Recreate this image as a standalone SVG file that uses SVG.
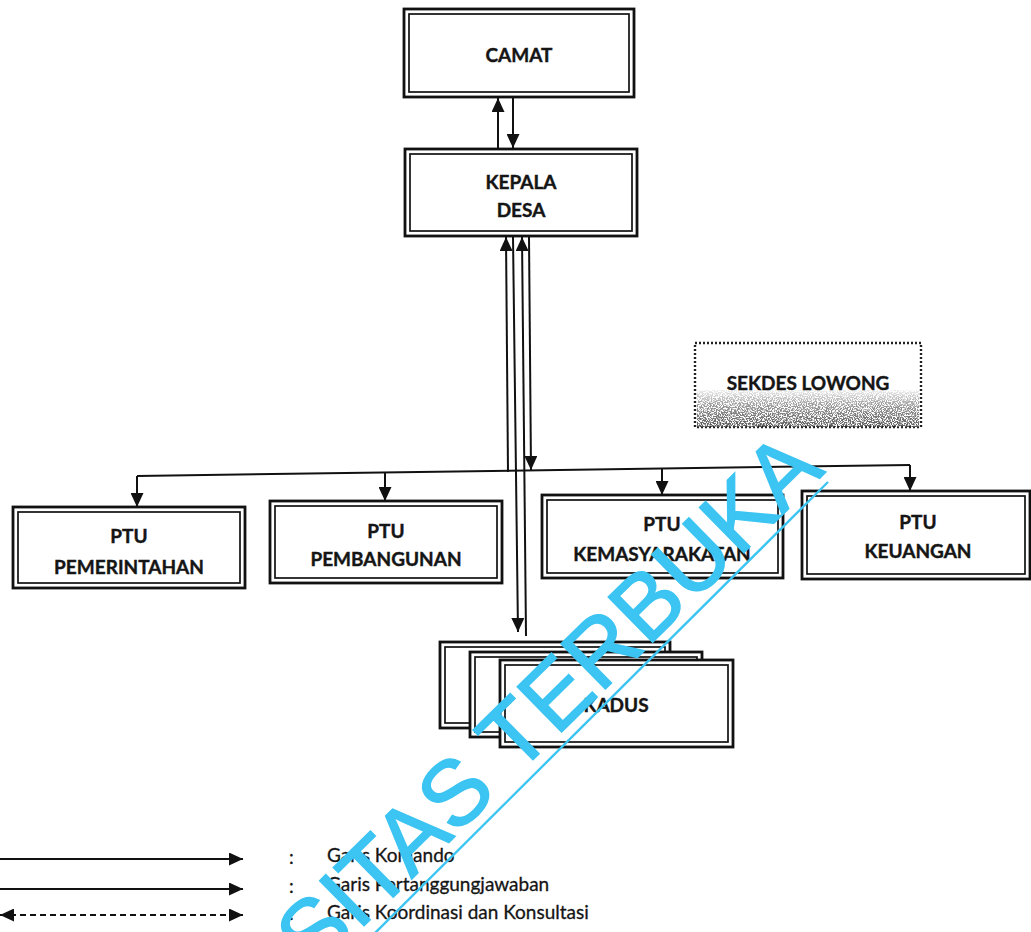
<svg xmlns="http://www.w3.org/2000/svg" width="1031" height="932" viewBox="0 0 1031 932">
  <style>
    .outer { fill: #ffffff; stroke: #111111; stroke-width: 2.8; }
    .inner { fill: none; stroke: #111111; stroke-width: 1.7; }
    .lbl { font-family: Lato, "Open Sans", "Liberation Sans", sans-serif; font-weight: 700; font-size: 19px; fill: #151515; stroke: #151515; stroke-width: 0.4; text-anchor: middle; }
    .leg { font-family: Lato, "Open Sans", "Liberation Sans", sans-serif; font-size: 19px; fill: #151515; stroke: #151515; stroke-width: 0.3; }
    .conn { fill: none; stroke: #111111; stroke-width: 2; }
    .wm { font-family: "Liberation Sans", Arial, sans-serif; font-size: 92px; fill: #3cc4f2; stroke: #3cc4f2; stroke-width: 1.5; }
  </style>
  <defs>
    <marker id="arrow" markerUnits="userSpaceOnUse" markerWidth="15" markerHeight="13" refX="14" refY="6.5" orient="auto">
      <path d="M0,0 L14,6.5 L0,13 Z" fill="#111111"/>
    </marker>
    <marker id="arrowStart" markerUnits="userSpaceOnUse" markerWidth="15" markerHeight="13" refX="1" refY="6.5" orient="auto">
      <path d="M15,0 L1,6.5 L15,13 Z" fill="#111111"/>
    </marker>
    <linearGradient id="fadeDown" x1="0" y1="0" x2="0" y2="1">
      <stop offset="0" stop-color="#000" stop-opacity="0.1"/>
      <stop offset="0.4" stop-color="#000" stop-opacity="0.6"/>
      <stop offset="1" stop-color="#000" stop-opacity="1"/>
    </linearGradient>
    <filter id="speckle" x="0" y="0" width="100%" height="100%">
      <feTurbulence type="fractalNoise" baseFrequency="0.8" numOctaves="2" seed="7" result="n"/>
      <feColorMatrix in="n" type="matrix" values="0 0 0 0 0.1  0 0 0 0 0.1  0 0 0 0 0.1  7 0 0 0 -2.9" result="spots"/>
      <feComposite in="spots" in2="SourceGraphic" operator="in"/>
    </filter>
  </defs>

  <rect width="1031" height="932" fill="#ffffff"/>

  <!-- connectors -->
  <g id="connectors">
    <line class="conn" x1="498" y1="149" x2="498" y2="98" marker-end="url(#arrow)"/>
    <line class="conn" x1="513" y1="98" x2="513" y2="148" marker-end="url(#arrow)"/>
    <line class="conn" x1="508" y1="472" x2="506" y2="237" marker-end="url(#arrow)"/>
    <line class="conn" x1="513" y1="237" x2="518" y2="632" marker-end="url(#arrow)"/>
    <line class="conn" x1="526" y1="636" x2="522" y2="237" marker-end="url(#arrow)"/>
    <line class="conn" x1="529" y1="237" x2="531" y2="470" marker-end="url(#arrow)"/>
    <path class="conn" d="M137,476 L910,465"/>
    <line class="conn" x1="137" y1="476" x2="137" y2="507" marker-end="url(#arrow)"/>
    <line class="conn" x1="385" y1="473" x2="385" y2="501" marker-end="url(#arrow)"/>
    <line class="conn" x1="662" y1="469" x2="662" y2="495" marker-end="url(#arrow)"/>
    <line class="conn" x1="910" y1="465" x2="910" y2="491" marker-end="url(#arrow)"/>
  </g>

  <g id="camat">
    <rect class="outer" x="404" y="9" width="230" height="88"/>
    <rect class="inner" x="409" y="14" width="220" height="78"/>
    <text class="lbl" x="519" y="62">CAMAT</text>
  </g>

  <g id="kepala-desa">
    <rect class="outer" x="405" y="149" width="232" height="87"/>
    <rect class="inner" x="410" y="154" width="222" height="77"/>
    <text class="lbl" x="521" y="189">KEPALA</text>
    <text class="lbl" x="521" y="217">DESA</text>
  </g>

  <g id="sekdes">
    <rect x="695" y="343" width="226" height="84" fill="#ffffff" stroke="#222" stroke-width="2.4" stroke-dasharray="2 2"/>
    <rect x="697" y="390" width="222" height="37" fill="url(#fadeDown)" filter="url(#speckle)"/>
    <text class="lbl" x="808" y="390">SEKDES LOWONG</text>
  </g>

  <g id="ptu-pemerintahan">
    <rect class="outer" x="13" y="507" width="232" height="81"/>
    <rect class="inner" x="18" y="512" width="222" height="71"/>
    <text class="lbl" x="129" y="543">PTU</text>
    <text class="lbl" x="129" y="574">PEMERINTAHAN</text>
  </g>

  <g id="ptu-pembangunan">
    <rect class="outer" x="270" y="501" width="232" height="82"/>
    <rect class="inner" x="275" y="506" width="222" height="72"/>
    <text class="lbl" x="386" y="538">PTU</text>
    <text class="lbl" x="386" y="566">PEMBANGUNAN</text>
  </g>

  <g id="ptu-kemasyarakatan">
    <rect class="outer" x="542" y="495" width="241" height="83"/>
    <rect class="inner" x="547" y="500" width="231" height="73"/>
    <text class="lbl" x="662" y="531">PTU</text>
    <text class="lbl" x="662" y="561">KEMASYARAKATAN</text>
  </g>

  <g id="ptu-keuangan">
    <rect class="outer" x="802" y="491" width="228" height="88"/>
    <rect class="inner" x="807" y="496" width="218" height="78"/>
    <text class="lbl" x="918" y="529">PTU</text>
    <text class="lbl" x="918" y="558">KEUANGAN</text>
  </g>

  <g id="kadus">
    <rect class="outer" x="440" y="642" width="230" height="86"/>
    <rect class="inner" x="445" y="647" width="220" height="76"/>
    <rect class="outer" x="470" y="652" width="232" height="85"/>
    <rect class="inner" x="475" y="657" width="222" height="75"/>
    <rect class="outer" x="500" y="660" width="233" height="87"/>
    <rect class="inner" x="505" y="665" width="223" height="77"/>
    <text class="lbl" x="616" y="712">KADUS</text>
  </g>

  <g id="legend">
    <line class="conn" x1="0" y1="859" x2="243" y2="859" marker-end="url(#arrow)"/>
    <line class="conn" x1="0" y1="889" x2="243" y2="889" marker-end="url(#arrow)"/>
    <line class="conn" x1="0" y1="915" x2="243" y2="915" stroke-dasharray="6 4" marker-start="url(#arrowStart)" marker-end="url(#arrow)"/>
    <text class="leg" x="289" y="864">:</text>
    <text class="leg" x="289" y="893">:</text>
    <text class="leg" x="289" y="920">:</text>
    <text class="leg" x="327" y="862">Garis Komando</text>
    <text class="leg" x="327" y="891">Garis Pertanggungjawaban</text>
    <text class="leg" x="327" y="919">Garis Koordinasi dan Konsultasi</text>
  </g>

  <!-- stamp lettering across the sheet -->
  <g id="watermark">
    <text class="wm" transform="translate(826,472) rotate(-44.5)" text-anchor="end">SITAS TERBUKA</text>
    <line x1="370" y1="938" x2="828" y2="482" stroke="#3cc4f2" stroke-width="2.4"/>
  </g>
</svg>
